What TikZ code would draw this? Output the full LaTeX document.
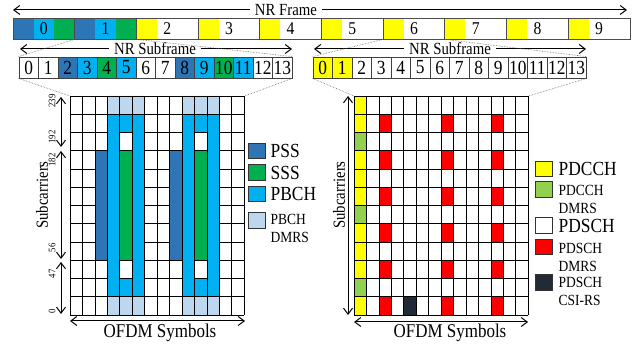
\documentclass[tikz,border=0pt]{standalone}
\usepackage{fontspec}
\setmainfont{Liberation Serif}[FakeStretch=0.87]
\usetikzlibrary{positioning,arrows.meta}
\definecolor{pss}{HTML}{2E75B6}
\definecolor{sss}{HTML}{00B050}
\definecolor{pbch}{HTML}{00B0F0}
\definecolor{pbchdmrs}{HTML}{BDD7EE}
\definecolor{pdcch}{HTML}{FFFF00}
\definecolor{pdcchdmrs}{HTML}{92D050}
\definecolor{pdschdmrs}{HTML}{FF0000}
\definecolor{csirs}{HTML}{222A35}

\begin{document}
\begin{tikzpicture}[x=1pt,y=-1pt]
		\tikzstyle{frm}=[rectangle, draw=black!70, line width=0.9pt, minimum width=61.7pt, minimum height=21pt, inner sep=0pt, font=\fontsize{18}{18}\selectfont]
		\tikzstyle{sub}=[rectangle, draw=black!75, line width=0.8pt, minimum width=19.5pt, minimum height=21pt, inner sep=0pt, font=\fontsize{20}{20}\selectfont]
		\tikzstyle{dim}=[{Straight Barb[length=6pt,width=9pt]}-{Straight Barb[length=6pt,width=9pt]}, line width=1pt]
		\tikzstyle{zoomline}=[densely dotted, black!60, line width=0.6pt]
		\tikzstyle{title}=[fill=white, inner xsep=5pt, inner ysep=1pt, font=\fontsize{17}{17}\selectfont]
		\tikzstyle{axis}=[inner sep=1pt, font=\fontsize{19.5}{19.5}\selectfont]
		\tikzstyle{tick}=[inner sep=0pt, rotate=90, font=\fontsize{10}{10}\selectfont]
		\tikzstyle{gridline}=[black, line width=0.8pt]
		\tikzstyle{blk}=[draw=black, line width=0.8pt]
		\tikzstyle{key}=[rectangle, draw=black!80, line width=1pt, minimum width=17pt, minimum height=15.5pt, inner sep=0pt]
		\tikzstyle{keytxt}=[inner sep=1pt, font=\fontsize{20}{20}\selectfont]
		\tikzstyle{keysmall}=[inner sep=1pt, align=left, font=\fontsize{15.5}{18}\selectfont]
		\useasboundingbox (0,0) rectangle (638,347);
		% NR frame
		\foreach \i in {0,1}{
			\fill[pss] ({13+61.7*\i},18) rectangle +(20.57,21);
			\fill[pbch] ({33.57+61.7*\i},18) rectangle +(20.57,21);
			\fill[sss] ({54.13+61.7*\i},18) rectangle +(20.57,21);
		}
		\foreach \i in {2,...,9}
			\fill[pdcch] ({13+61.7*\i},18) rectangle +(20.57,21);
		\foreach \i in {0,...,9}
			\node[frm] (f\i) at ({43.85+61.7*\i},28.5) {\i};
		\coordinate (fl) at (13,10);
		\coordinate (fr) at (627,10);
		\draw[dim] (fl) -- (fr);
		\node[title] (nrf) at (286,10) {NR Frame};
		% subframes
		\foreach \c [count=\i from 0] in {white,white,pss,pbch,sss,pbch,white,white,pss,pbch,sss,pbch,white,white}
			\node[sub, fill=\c] (sl\i) at ({28.75+19.5*\i},67.5) {\i};
		\foreach \c [count=\i from 0] in {pdcch,pdcch,white,white,white,white,white,white,white,white,white,white,white,white}
			\node[sub, fill=\c] (sr\i) at ({322.75+19.5*\i},67.5) {\i};
		\coordinate (sll) at (20,49);
		\coordinate (slr) at (292,49);
		\coordinate (srl) at (314,49);
		\coordinate (srr) at (586,49);
		\draw[dim] (sll) -- (slr);
		\draw[dim] (srl) -- (srr);
		\node[title] (nrsl) at (155,49) {NR Subframe};
		\node[title] (nrsr) at (450,49) {NR Subframe};
		\draw[zoomline] (f1.south west) -- (sl0.north west);
		\draw[zoomline] (f1.south east) -- (sl13.north east);
		\draw[zoomline] (f6.south west) -- (sr0.north west);
		\draw[zoomline] (f6.south east) -- (sr13.north east);
		% resource grids
		\node[inner sep=0pt, minimum width=174.3pt, minimum height=219pt, anchor=north west] (gridL) at (70,96) {};
		\node[inner sep=0pt, minimum width=174.3pt, minimum height=219pt, anchor=north west] (gridR) at (354,96) {};
		\draw[zoomline] (sl0.south west) -- (gridL.north west);
		\draw[zoomline] (sl13.south east) -- (gridL.north east);
		\draw[zoomline] (sr0.south west) -- (gridR.north west);
		\draw[zoomline] (sr13.south east) -- (gridR.north east);
		\begin{scope}[shift={(70,96)}, x=12.45pt, y=-18.25pt]
			\fill[pbchdmrs] (3,0) rectangle (6,1) (9,0) rectangle (12,1) (3,11) rectangle (6,12) (9,11) rectangle (12,12);
			\foreach \c in {0,...,14} \draw[gridline] (\c,0) -- (\c,12);
			\foreach \r in {0,...,12} \draw[gridline] (0,\r) -- (14,\r);
			\foreach \c in {3,9}{
				\draw[blk, fill=pss] ({\c-1},3) rectangle (\c,9);
				\draw[blk, fill=pbch] (\c,1) rectangle ({\c+1},11);
				\draw[blk, fill=pbch] ({\c+2},1) rectangle ({\c+3},11);
				\draw[blk, fill=pbch] ({\c+1},1) rectangle ({\c+2},2);
				\draw[blk, fill=pbch] ({\c+1},10) rectangle ({\c+2},11);
				\draw[blk, fill=sss] ({\c+1},3) rectangle ({\c+2},9);
			}
		\end{scope}
		\begin{scope}[shift={(354,96)}, x=12.45pt, y=-18.25pt]
			\foreach \r in {0,1,3,4,5,7,8,9,11} \fill[pdcch] (0,\r) rectangle (1,{\r+1});
			\foreach \r in {2,6,10} \fill[pdcchdmrs] (0,\r) rectangle (1,{\r+1});
			\foreach \r in {1,3,...,11}
				\foreach \c in {2,7,11} \fill[pdschdmrs] (\c,\r) rectangle ({\c+1},{\r+1});
			\fill[csirs] (4,11) rectangle (5,12);
			\foreach \c in {0,...,14} \draw[gridline] (\c,0) -- (\c,12);
			\foreach \r in {0,...,12} \draw[gridline] (0,\r) -- (14,\r);
		\end{scope}
		% axes
		\coordinate (a1) at (61,97);
		\coordinate (a2) at (61,147);
		\coordinate (a3) at (61,151);
		\coordinate (a4) at (61,259);
		\coordinate (a5) at (61,262);
		\coordinate (a6) at (61,314);
		\draw[dim] (a1) -- (a2);
		\draw[dim] (a3) -- (a4);
		\draw[dim] (a5) -- (a6);
		\coordinate (b1) at (348,96);
		\coordinate (b2) at (348,315);
		\draw[dim] (b1) -- (b2);
		\coordinate (c1) at (70,321);
		\coordinate (c2) at (245,321);
		\coordinate (c3) at (354,322);
		\coordinate (c4) at (528,322);
		\draw[dim] (c1) -- (c2);
		\draw[dim] (c3) -- (c4);
		\node[axis] (ofdmL) at (160,333) {OFDM Symbols};
		\node[axis] (ofdmR) at (450,333) {OFDM Symbols};
		\node[axis, rotate=90, font=\fontsize{17}{17}\selectfont] (scL) at (42,195) {Subcarriers};
		\node[axis, rotate=90, font=\fontsize{17}{17}\selectfont] (scR) at (339,195) {Subcarriers};
		\node[tick] (t239) at (52,101) {239};
		\node[tick] (t192) at (52,137) {192};
		\node[tick] (t182) at (52,160) {182};
		\node[tick] (t56) at (52,248) {56};
		\node[tick] (t47) at (52,274) {47};
		\node[tick] (t0) at (52,311) {0};
		% legends
		\node[key, fill=pss] (kpss) at (256.5,151) {};
		\node[key, fill=sss] (ksss) at (256.5,172.5) {};
		\node[key, fill=pbch] (kpbch) at (256.5,194) {};
		\node[key, fill=pbchdmrs] (kpbd) at (256.5,220.5) {};
		\node[keytxt, right=4pt of kpss] (tpss) {PSS};
		\node[keytxt, right=4pt of ksss] (tsss) {SSS};
		\node[keytxt, right=4pt of kpbch] (tpbch) {PBCH};
		\node[keysmall, right=4pt of kpbd, yshift=-8pt] (tpbd) {PBCH\\DMRS};
		\node[key, fill=pdcch] (kpdc) at (543.5,169) {};
		\node[key, fill=pdcchdmrs] (kpdcd) at (543.5,189.5) {};
		\node[key, fill=white] (kpds) at (543.5,225.5) {};
		\node[key, fill=pdschdmrs] (kpdsd) at (543.5,247) {};
		\node[key, fill=csirs] (kcsi) at (543.5,282.5) {};
		\node[keytxt, right=5pt of kpdc] (tpdc) {PDCCH};
		\node[keysmall, right=5pt of kpdcd, yshift=-9.5pt] (tpdcd) {PDCCH\\DMRS};
		\node[keytxt, right=5pt of kpds] (tpds) {PDSCH};
		\node[keysmall, right=5pt of kpdsd, yshift=-10pt] (tpdsd) {PDSCH\\DMRS};
		\node[keysmall, right=5pt of kcsi, yshift=-9pt] (tcsi) {PDSCH\\CSI-RS};
\end{tikzpicture}
\end{document}
